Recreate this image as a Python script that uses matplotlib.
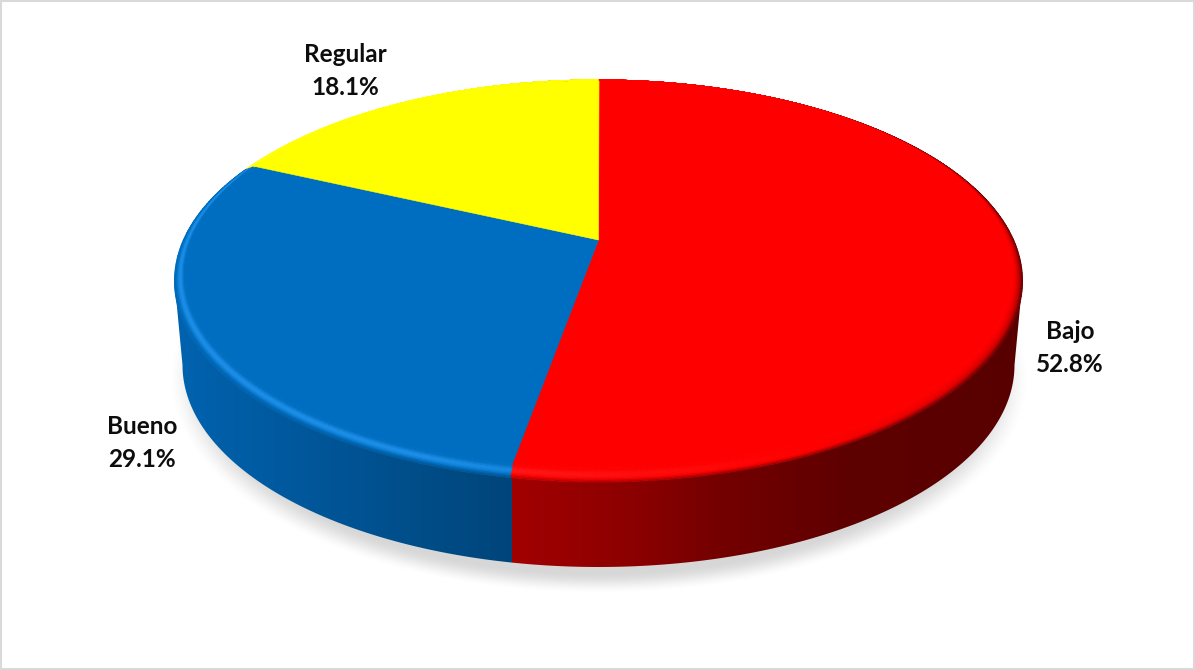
import matplotlib
matplotlib.use("Agg")
import matplotlib.pyplot as plt
from matplotlib.collections import PolyCollection
from matplotlib.patches import Polygon, Rectangle
import numpy as np

labels = ["Bajo", "Bueno", "Regular"]
values = [52.8, 29.1, 18.1]
top_colors = ["#FF0000", "#006EC0", "#FFFF00"]
glow_colors = ["#FF1C1C", "#1C8EE8", "#FFFF30"]
label_xy = [(1070, 348), (142, 443), (345, 71)]

W, H = 1195, 670
CX = 598.5
APEX_Y = 240
# flat top face, outer edge of the bevel and foot of the wall
FACE_A, FACE_B, FACE_CY = 413.0, 194.0, 274.0
RIM_A, RIM_B, RIM_CY = 424.0, 201.0, 281.0
FOOT_A, FOOT_B, FOOT_CY = 416.0, 202.0, 365.0


def face_point(theta_deg, r=1.0):
    """Disc point (clockwise from 12 o'clock) seen in perspective."""
    th = np.radians(theta_deg)
    x, y = r * np.sin(th), r * np.cos(th)
    k = (FACE_CY - APEX_Y) / FACE_B
    w = 1 + k * y
    return (CX + FACE_A * np.sqrt(1 - k ** 2) * x / w,
            FACE_CY - FACE_B * (y + k) / w)


def rim_point(theta_deg, t):
    """t=0 on the face edge, t=1 on the outer bevel edge."""
    px, py = face_point(theta_deg)
    nx, ny = (px - CX) / FACE_A, (py - FACE_CY) / FACE_B
    return ((1 - t) * px + t * (CX + RIM_A * nx),
            (1 - t) * py + t * (RIM_CY + RIM_B * ny))


def side_color(x, seam_x):
    if x < seam_x:
        return (0.0,
                np.interp(x, [183, seam_x], [0x62, 0x45]) / 255,
                np.interp(x, [183, seam_x], [0xAE, 0x7A]) / 255)
    return (np.interp(x, [seam_x, 640, 720, 850, 1020], [0xA2, 0x8A, 0x74, 0x5E, 0x58]) / 255, 0.0, 0.0)


to_rgb = matplotlib.colors.to_rgb
edges = np.concatenate([[0], np.cumsum(values)]) * 3.6
seam_x = face_point(edges[1])[0]

fig = plt.figure(figsize=(W / 100, H / 100), dpi=100)
ax = fig.add_axes([0, 0, 1, 1])
ax.axis("off")

# soft shadow below the disc
yy, xx = np.mgrid[0:H, 0:W]
dist = np.sqrt(((xx - CX) / 410.0) ** 2 + ((yy - 378.0) / 205.0) ** 2) - 1
fade = np.clip((0.055 - dist) / 0.11, 0, 1)
shadow = np.zeros((H, W, 4))
shadow[..., 3] = 0.16 * fade * fade * (3 - 2 * fade)
ax.imshow(shadow, extent=(0, W, H, 0), aspect="auto", zorder=1)

# outer wall, shaded column by column
tt = np.linspace(-90, 90, 181)
rim_x = CX + RIM_A * np.sin(np.radians(tt))
rim_y = RIM_CY + RIM_B * np.cos(np.radians(tt))
foot_x = CX + FOOT_A * np.sin(np.radians(tt[::-1]))
foot_y = FOOT_CY + FOOT_B * np.cos(np.radians(tt[::-1]))
wall_xy = np.column_stack([np.r_[rim_x, foot_x], np.r_[rim_y, foot_y]])
wall = Polygon(wall_xy, closed=True, transform=ax.transData, facecolor="none", edgecolor="none")
ax.add_patch(wall)
columns = np.array([[side_color(x + 0.5, seam_x) for x in range(W)]])
img = ax.imshow(columns, extent=(0, W, H, 0), aspect="auto", interpolation="nearest", zorder=2)
img.set_clip_path(wall)

# flat slices
for i in range(len(values)):
    th = np.arange(edges[i], edges[i + 1] + 0.25, 0.25)
    px, py = face_point(th)
    pts = np.column_stack([np.r_[CX, px], np.r_[APEX_Y, py]])
    ax.add_patch(Polygon(pts, closed=True, facecolor=top_colors[i], edgecolor=top_colors[i], linewidth=0.4, zorder=3))

# bevel ring between the face and the wall, painted from the outside in
quads = []
quad_colors = []
rings = np.linspace(0, 1, 11)
for t0, t1 in zip(rings[:-1][::-1], rings[1:][::-1]):
    t = (t0 + t1) / 2
    for i in range(len(values)):
        base = np.array(to_rgb(top_colors[i]))
        glow = np.array(to_rgb(glow_colors[i]))
        th = np.linspace(edges[i], edges[i + 1], int((edges[i + 1] - edges[i]) / 0.75) + 1)
        for a, b in zip(th[:-1], th[1:]):
            mid = (a + b) / 2
            light = np.cos(np.radians(mid - 245))
            c = base.copy()
            if light > 0:
                c = c + (glow - base) * min(1.0, light * 1.4) * np.sin(np.pi * min(t / 0.85, 1)) ** 2
            else:
                c = c + (np.array([0.36, 0, 0]) - base) * min(1.0, -light * 1.2) * t ** 2
            # blend into the wall at the lower edge, only on the front half
            px, py = rim_point(mid, t)
            front = np.clip(-np.cos(np.radians(mid)) / 0.35, 0, 1)
            if t > 0.7:
                c = c + (np.array(side_color(px, seam_x)) - c) * (t - 0.7) / 0.3 * 0.8 * front
            quads.append([rim_point(a, t0), rim_point(b, t0), rim_point(b, t1), rim_point(a, t1)])
            quad_colors.append(c)
ax.add_collection(PolyCollection(quads, facecolors=quad_colors, edgecolors="face", linewidths=0.7, zorder=4))

# data labels
for i in range(len(values)):
    ax.text(label_xy[i][0], label_xy[i][1], "{}\n{:.1f}%".format(labels[i], values[i]),
            ha="center", va="center", family="Lato", fontweight="bold", fontsize=17.5,
            linespacing=1.5, color="#0D0D0D", zorder=5)

# chart frame
ax.add_patch(Rectangle((1, 1), W - 2, H - 2, facecolor="none", edgecolor="#D9D9D9", linewidth=1.5, zorder=6))

ax.set_xlim(0, W)
ax.set_ylim(H, 0)
fig.savefig("out.png", dpi=100, facecolor="white")
